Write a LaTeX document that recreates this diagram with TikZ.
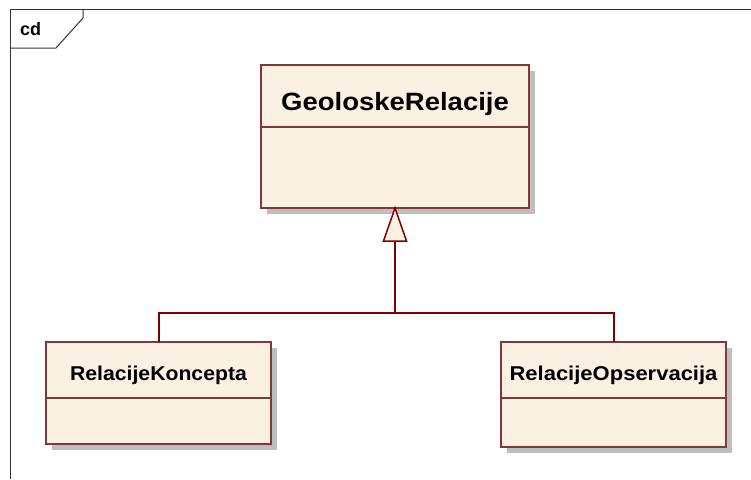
\documentclass[tikz,border=0pt]{standalone}
\usepackage{fontspec}
\setmainfont{Liberation Sans}
\usepackage{graphicx}
\definecolor{boxfill}{RGB}{251,241,227}
\definecolor{boxline}{RGB}{128,56,56}
\definecolor{conn}{RGB}{128,0,0}
\definecolor{shade}{RGB}{190,190,190}
\definecolor{frameline}{RGB}{50,50,50}
\tikzset{
  classbox/.style={draw=boxline, fill=boxfill, line width=1.3pt},
  shadowbox/.style={fill=shade, draw=none},
  divider/.style={draw=boxline, line width=1.3pt},
  gen/.style={draw=conn, line width=1.5pt},
  titletext/.style={font=\bfseries, text=black, inner sep=0pt},
  framestyle/.style={draw=frameline, line width=1pt},
}
\begin{document}
\begin{tikzpicture}[x=1pt,y=-1pt]
\useasboundingbox (0,0) rectangle (751,479);
% frame
\draw[framestyle] (751,9.5) -- (10.5,9.5) -- (10.5,479);
\draw[framestyle] (10.5,48) -- (56,48) -- (83,18) -- (83,9.5);
\node[font=\bfseries\fontsize{18}{18}\selectfont, anchor=west, inner sep=0pt] (cd) at (20,29) {cd};

% GeoloskeRelacije
\fill[shadowbox] (267,71) rectangle (535,214);
\draw[classbox] (261,65) rectangle (529,208);
\draw[divider] (261,127) -- (529,127);
\coordinate (top) at (395,208);
\node[titletext] (g) at (395,104) {\scalebox{1.1}[1]{\fontsize{25}{25}\selectfont GeoloskeRelacije}};

% RelacijeKoncepta
\fill[shadowbox] (52,348) rectangle (277,450);
\draw[classbox] (46,342) rectangle (271,444);
\draw[divider] (46,398) -- (271,398);
\coordinate (k) at (159,342);
\node[titletext] (kt) at (158.5,375) {\scalebox{1.06}[1]{\fontsize{20}{20}\selectfont RelacijeKoncepta}};

% RelacijeOpservacija
\fill[shadowbox] (507,348) rectangle (732,453);
\draw[classbox] (501,342) rectangle (726,447);
\draw[divider] (501,398) -- (726,398);
\coordinate (o) at (614,342);
\node[titletext] (ot) at (613.5,375) {\scalebox{1.1}[1]{\fontsize{20}{20}\selectfont RelacijeOpservacija}};

% generalization
\coordinate (j) at (395,313);
\coordinate (tb) at (395,241);
\draw[gen] (k) -- (159,313) -- (614,313) -- (o);
\draw[gen] (j) -- (tb);
\draw[gen, fill=boxfill, line join=miter] (383.5,241) -- (top) -- (406.5,241) -- cycle;
\end{tikzpicture}
\end{document}
